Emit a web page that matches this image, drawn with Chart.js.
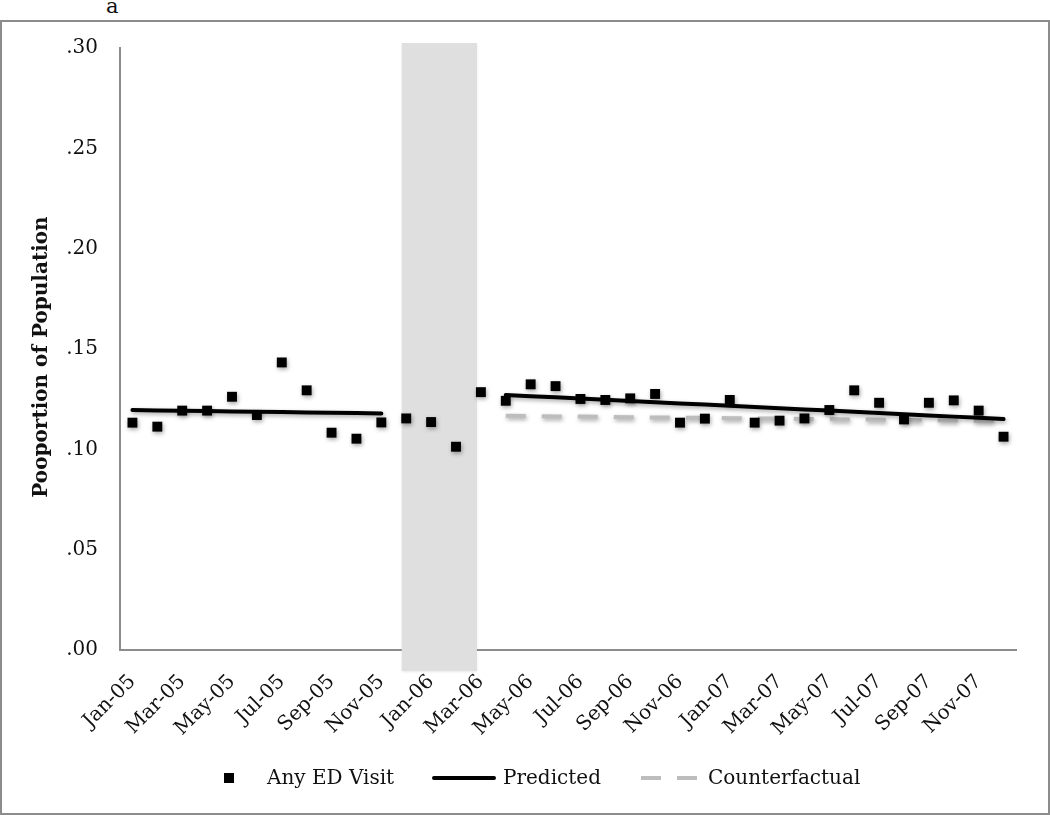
<!DOCTYPE html>
<html>
<head>
<meta charset="utf-8">
<script src="https://cdn.jsdelivr.net/npm/chart.js@4.4.1/dist/chart.umd.min.js"></script>
<style>
  html, body { margin: 0; padding: 0; background: #fff; }
  #wrap { position: relative; width: 1050px; height: 815px; overflow: hidden; font-family: 'DejaVu Serif', 'Liberation Serif', serif; }
  #frame { position: absolute; left: 0px; top: 20px; width: 1046px; height: 791px; border: 2px solid #8c8c8c; }
  #panel { position: absolute; left: 106px; top: -6px; font-size: 21px; color: #111; }
  #c { position: absolute; left: 0; top: 0; }
  .lg { position: absolute; font-size: 20px; color: #111; line-height: 22px; white-space: nowrap; }
  .mk { position: absolute; }
</style>
</head>
<body>
<div id="wrap">
  <div id="frame"></div>
  <div id="panel">a</div>
  <canvas id="c" width="1050" height="815"></canvas>
  <div id="legend"></div>
</div>
<script>
// ---- data ----
const months = ['Jan-05','Feb-05','Mar-05','Apr-05','May-05','Jun-05','Jul-05','Aug-05','Sep-05','Oct-05','Nov-05','Dec-05',
                'Jan-06','Feb-06','Mar-06','Apr-06','May-06','Jun-06','Jul-06','Aug-06','Sep-06','Oct-06','Nov-06','Dec-06',
                'Jan-07','Feb-07','Mar-07','Apr-07','May-07','Jun-07','Jul-07','Aug-07','Sep-07','Oct-07','Nov-07','Dec-07'];

const anyEdVisit = [0.1133,0.1113,0.1193,0.1193,0.1262,0.1171,0.1433,0.1294,0.1083,0.1053,0.1134,0.1154,
                    0.1136,0.1013,0.1285,0.1242,0.1324,0.1315,0.1251,0.1246,0.1254,0.1276,0.1133,0.1153,
                    0.1246,0.1133,0.1143,0.1154,0.1196,0.1294,0.1232,0.1149,0.1232,0.1244,0.1193,0.1063];

const predicted = [0.1196,0.1194,0.1192,0.1191,0.1189,0.1187,0.1186,0.1184,0.1182,0.1181,0.1179,null,
                   null,null,null,0.1271,0.1265,0.1259,0.1253,0.1247,0.1241,0.1235,0.1229,0.1223,
                   0.1217,0.1211,0.1205,0.1199,0.1193,0.1187,0.1181,0.1175,0.1169,0.1163,0.1157,0.1151];

const counterfactual = [null,null,null,null,null,null,null,null,null,null,null,null,
                        null,null,null,0.1167,0.1166,0.1164,0.1163,0.1162,0.1160,0.1159,0.1158,0.1157,
                        0.1155,0.1154,0.1153,0.1151,0.1150,0.1149,0.1147,0.1146,0.1145,0.1144,0.1142,0.1141];

const yTicks = [0, 0.05, 0.10, 0.15, 0.20, 0.25, 0.30];
const yTitle = 'Pooportion of Population';

// shaded transition period (category-index positions)
const shadeStart = 10.82;
const shadeEnd = 13.84;
const shadeLow = -0.0105;
const shadeHigh = 0.3025;

const FONT = "'DejaVu Serif', 'Liberation Serif', serif";

const shadePlugin = {
  id: 'shade',
  beforeDatasetsDraw(chart) {
    const {ctx, scales: {x, y}} = chart;
    const x0 = x.getPixelForValue(shadeStart);
    const x1 = x.getPixelForValue(shadeEnd);
    const y0 = y.getPixelForValue(shadeHigh);
    const y1 = y.getPixelForValue(shadeLow);
    ctx.save();
    ctx.shadowColor = 'rgba(0,0,0,0.12)';
    ctx.shadowBlur = 3;
    ctx.shadowOffsetY = 1;
    ctx.fillStyle = '#dfdfdf';
    ctx.fillRect(x0, y0, x1 - x0, y1 - y0);
    ctx.restore();
  }
};

const shadowPlugin = {
  id: 'dsShadow',
  beforeDatasetDraw(chart) {
    const ctx = chart.ctx;
    ctx.save();
    ctx.shadowColor = 'rgba(0,0,0,0.35)';
    ctx.shadowBlur = 4;
    ctx.shadowOffsetX = 1;
    ctx.shadowOffsetY = 2;
  },
  afterDatasetDraw(chart) {
    chart.ctx.restore();
  }
};

// y-axis title, drawn slightly below the axis centre as in the source
const yTitlePlugin = {
  id: 'yTitle',
  afterDraw(chart) {
    const {ctx, scales: {y}} = chart;
    const cy = (y.top + y.bottom) / 2 + 8;
    ctx.save();
    ctx.translate(42, cy);
    ctx.rotate(-Math.PI / 2);
    ctx.font = "bold 20px " + FONT;
    ctx.fillStyle = '#111';
    ctx.textAlign = 'center';
    ctx.textBaseline = 'middle';
    ctx.fillText(yTitle, 0, 0);
    ctx.restore();
  }
};

const datasets = [
  {
    label: 'Any ED Visit',
    data: anyEdVisit,
    showLine: false,
    pointStyle: 'rect',
    pointRadius: 7,
    pointHoverRadius: 7,
    pointBackgroundColor: '#000',
    pointBorderWidth: 0,
    borderColor: '#000',
    backgroundColor: '#000'
  },
  {
    label: 'Predicted',
    data: predicted,
    borderColor: '#000',
    borderWidth: 4,
    borderCapStyle: 'round',
    pointRadius: 0,
    spanGaps: false,
    tension: 0
  },
  {
    label: 'Counterfactual',
    data: counterfactual,
    borderColor: '#bdbdbd',
    borderWidth: 4,
    borderDash: [20, 16],
    pointRadius: 0,
    spanGaps: false,
    tension: 0
  }
];

new Chart(document.getElementById('c'), {
  type: 'line',
  data: { labels: months, datasets },
  plugins: [shadePlugin, shadowPlugin, yTitlePlugin],
  options: {
    responsive: false,
    animation: false,
    events: [],
    layout: { padding: { left: 0, right: 34, top: 48, bottom: 60 } },
    plugins: { legend: { display: false }, tooltip: { enabled: false } },
    scales: {
      x: {
        type: 'category',
        offset: true,
        grid: { display: false, drawTicks: false },
        border: { display: true, color: '#8c8c8c', width: 2 },
        ticks: {
          autoSkip: false,
          maxRotation: 45,
          minRotation: 45,
          padding: 20,
          color: '#111',
          font: { family: FONT, size: 20 },
          callback: (v, i) => (i % 2 === 0 ? months[i] : '')
        },
        afterFit: (s) => { s.height = 105; }
      },
      y: {
        min: 0,
        max: 0.30,
        grid: { display: false, drawTicks: false },
        border: { display: true, color: '#8c8c8c', width: 2 },
        afterBuildTicks: (s) => { s.ticks = yTicks.map(v => ({ value: v })); },
        ticks: {
          padding: 22,
          color: '#111',
          font: { family: FONT, size: 20 },
          callback: (v) => v.toFixed(2).replace(/^0/, '')
        },
        afterFit: (s) => { s.width = 120; }
      }
    }
  }
});

// ---- legend (HTML, built from the dataset labels) ----
const legendLayout = [
  { kind: 'square', markLeft: 224, textLeft: 267 },
  { kind: 'line', markLeft: 432, textLeft: 503 },
  { kind: 'dash', markLeft: 641, textLeft: 708 }
];
const legendY = 778;
const lg = document.getElementById('legend');
datasets.forEach((ds, i) => {
  const L = legendLayout[i];
  if (L.kind === 'square') {
    const m = document.createElement('div');
    m.className = 'mk';
    m.style.cssText = `left:${L.markLeft}px;top:${legendY - 5}px;width:10px;height:10px;background:#000;`;
    lg.appendChild(m);
  } else if (L.kind === 'line') {
    const m = document.createElement('div');
    m.className = 'mk';
    m.style.cssText = `left:${L.markLeft}px;top:${legendY - 2}px;width:64px;height:4px;background:#000;border-radius:2px;`;
    lg.appendChild(m);
  } else {
    [0, 36].forEach(dx => {
      const m = document.createElement('div');
      m.className = 'mk';
      m.style.cssText = `left:${L.markLeft + dx}px;top:${legendY - 2}px;width:20px;height:4px;background:#bdbdbd;`;
      lg.appendChild(m);
    });
  }
  const t = document.createElement('div');
  t.className = 'lg';
  t.textContent = ds.label;
  t.style.left = L.textLeft + 'px';
  t.style.top = (legendY - 12) + 'px';
  lg.appendChild(t);
});
</script>
</body>
</html>
